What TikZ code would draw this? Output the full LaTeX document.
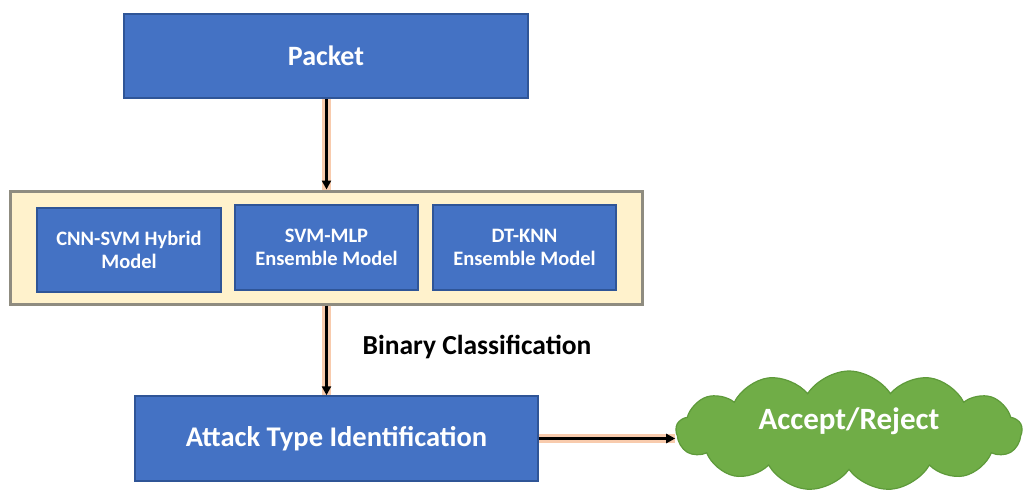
\documentclass[tikz,border=0pt]{standalone}
\usepackage{fontspec}
\setmainfont{Carlito}
\usetikzlibrary{arrows.meta,shapes.symbols}
\definecolor{boxblue}{HTML}{4472C4}
\definecolor{boxedge}{HTML}{2F5597}
\definecolor{panelfill}{HTML}{FFF2CC}
\definecolor{paneledge}{HTML}{8F8C80}
\definecolor{cloudfill}{HTML}{70AD47}
\definecolor{cloudedge}{HTML}{5E9A3A}
\definecolor{glowc}{HTML}{F8CBAD}
\tikzset{
  bluebox/.style={draw=boxedge, line width=1.5pt, fill=boxblue, text=white,
    font=\bfseries, align=center, inner sep=0pt},
  flow/.style={draw=black, line width=2.6pt,
    -{Triangle[length=9pt,width=9pt]},
    preaction={draw=glowc, line width=9pt, -}},
}
\begin{document}
\begin{tikzpicture}[x=1pt,y=-1pt]
\useasboundingbox (0,0) rectangle (1023,490);

% input packet
\node[bluebox, minimum width=404pt, minimum height=84pt,
  font=\bfseries\fontsize{28}{30}\selectfont] (packet) at (326,56) {Packet};

% panel holding the three classifiers
\node[draw=paneledge, line width=3pt, fill=panelfill,
  minimum width=632pt, minimum height=113pt, inner sep=0pt] (panel) at (326.5,247.5) {};
\node[bluebox, minimum width=184pt, minimum height=84pt,
  font=\bfseries\fontsize{20.5}{23}\selectfont] (cnn) at (129,250) {CNN-SVM Hybrid\\Model};
\node[bluebox, minimum width=183pt, minimum height=85pt,
  font=\bfseries\fontsize{20.5}{23}\selectfont] (svm) at (326.5,247.5) {SVM-MLP\\Ensemble Model};
\node[bluebox, minimum width=183pt, minimum height=85pt,
  font=\bfseries\fontsize{20.5}{23}\selectfont] (dt) at (524.5,247.5) {DT-KNN\\Ensemble Model};

% attack type stage
\node[bluebox, minimum width=403pt, minimum height=85pt,
  font=\bfseries\fontsize{28.5}{31}\selectfont] (attack) at (336.5,438.5) {Attack Type Identification};

% decision cloud
\node[cloud, cloud puffs=13, cloud puff arc=115, aspect=2.9,
  draw=cloudedge, line width=1.2pt, fill=cloudfill,
  minimum width=346pt, minimum height=120pt, inner sep=0pt] (decision) at (849,431) {};
\node[text=white, font=\bfseries\fontsize{31}{34}\selectfont] (decisionlbl)
  at ([yshift=10pt]decision.center) {Accept/Reject};

% flow label
\node[font=\bfseries\fontsize{27.5}{30}\selectfont, text=black] (binlbl) at (477,347) {Binary Classification};

% connectors
\draw[flow] (packet.south -| panel.north) -- (panel.north);
\draw[flow] (panel.south) -- (panel.south |- attack.north);
\draw[flow] (attack.east) -- (attack.east -| decision.west);
\end{tikzpicture}
\end{document}
